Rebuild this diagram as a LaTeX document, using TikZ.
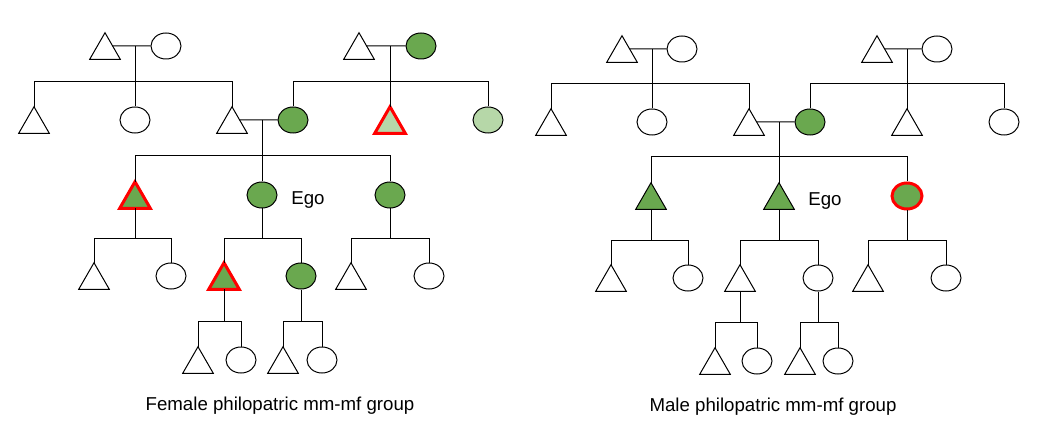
\documentclass[tikz,border=0pt]{standalone}
\usepackage{fontspec}
\setmainfont{Liberation Sans}
\usetikzlibrary{shapes.geometric,calc}
\definecolor{sgreen}{HTML}{6AA84F}
\definecolor{lgreen}{HTML}{B6D7A8}
\definecolor{sred}{HTML}{FF0000}
\tikzset{
 trinode/.style={rectangle, inner sep=0pt, minimum width=22.5pt, minimum height=19.5pt},
 ellnode/.style={ellipse, inner sep=0pt, minimum width=22.5pt, minimum height=19.5pt, draw=black, line width=0.75pt, fill=white},
 wline/.style={draw=black, line width=0.75pt, fill=white},
 gline/.style={draw=black, line width=0.75pt, fill=sgreen},
 rgline/.style={draw=sred, line width=2.25pt, fill=sgreen},
 rlgline/.style={draw=sred, line width=2.25pt, fill=lgreen},
 redell/.style={draw=sred, line width=2.25pt, fill=sgreen},
 link/.style={draw=black, line width=0.75pt},
 lbl/.style={font=\fontsize{14}{16}\selectfont, inner sep=0pt},
}
\newcommand\mytri[4]{\node[trinode] (#1) at (#2,#3) {};\draw[#4] (#1.north) -- (#1.south east) -- (#1.south west) -- cycle;}
\newcommand\myell[4]{\node[ellnode,#4] (#1) at (#2,#3) {};}
% marriage: triangle, ellipse, name of midpoint
\newcommand\mywed[3]{\draw[link] ($(#1.north)!0.5!(#1.south east)$) -- (#2.west);\coordinate (#3) at ($(#1.center)!0.5!(#2.center)$);}
\begin{document}
\begin{tikzpicture}[x=0.75pt,y=-0.75pt]
\useasboundingbox (0,0) rectangle (1044,438);
% ================= LEFT TREE =================
\mytri{a1}{105}{46}{wline}
\myell{a2}{166}{46}{}
\mytri{b1}{359}{46}{wline}
\myell{b2}{421}{46}{fill=sgreen}
\mytri{c1}{34}{120}{wline}
\myell{c2}{135}{120}{}
\mytri{c3}{232}{120}{wline}
\myell{c4}{293}{120}{fill=sgreen}
\mytri{c5}{390}{120}{rlgline}
\myell{c6}{488}{120}{fill=lgreen}
\mytri{d1}{135}{195}{rgline}
\myell{d2}{262}{195}{fill=sgreen}
\myell{d3}{390}{195}{fill=sgreen}
\node[lbl] (egoL) at (308,200) {Ego};
\mytri{e1}{94}{276}{wline}
\myell{e2}{171}{276}{}
\mytri{e3}{224}{276}{rgline}
\myell{e4}{301}{276}{fill=sgreen}
\mytri{e5}{351}{276}{wline}
\myell{e6}{429}{276}{}
\mytri{f1}{198}{360}{wline}
\myell{f2}{241}{360}{}
\mytri{f3}{283}{360}{wline}
\myell{f4}{322}{360}{}
% bars
\coordinate (barA) at (0,82);
\coordinate (barC) at (0,156);
\coordinate (barD) at (0,238);
\coordinate (barE) at (0,321);
% couple A
\mywed{a1}{a2}{ma}
\draw[link] (ma) -- (ma |- barA);
\draw[link] (c1.north) |- (c3.north |- barA) -- (c3.north);
\draw[link] (c2.north) -- (c2.north |- barA);
% couple B
\mywed{b1}{b2}{mb}
\draw[link] (mb) -- (mb |- barA);
\draw[link] (c4.north) |- (c6.north |- barA) -- (c6.north);
\draw[link] (c5.north) -- (c5.north |- barA);
% ego parents
\mywed{c3}{c4}{mc}
\draw[link] (mc) -- (mc |- barC);
\draw[link] (d1.north) |- (d3.north |- barC) -- (d3.north);
\draw[link] (d2.north) -- (d2.north |- barC);
% gen 3 families
\draw[link] (d1.south) -- (d1.south |- barD);
\draw[link] (e1.north) |- (e2.north |- barD) -- (e2.north);
\draw[link] (d2.south) -- (d2.south |- barD);
\draw[link] (e3.north) |- (e4.north |- barD) -- (e4.north);
\draw[link] (d3.south) -- (d3.south |- barD);
\draw[link] (e5.north) |- (e6.north |- barD) -- (e6.north);
% gen 4 families
\draw[link] (e3.south) -- (e3.south |- barE);
\draw[link] (f1.north) |- (f2.north |- barE) -- (f2.north);
\draw[link] (e4.south) -- (e4.south |- barE);
\draw[link] (f3.north) |- (f4.north |- barE) -- (f4.north);
\node[lbl] (capL) at (280,406) {Female philopatric mm-mf group};
% ================= RIGHT TREE =================
\mytri{ra1}{622}{49}{wline}
\myell{ra2}{682}{49}{}
\mytri{rb1}{877}{49}{wline}
\myell{rb2}{937}{49}{}
\mytri{rc1}{551}{122}{wline}
\myell{rc2}{652}{122}{}
\mytri{rc3}{749}{122}{wline}
\myell{rc4}{810}{122}{fill=sgreen}
\mytri{rc5}{907}{122}{wline}
\myell{rc6}{1004}{122}{}
\mytri{rd1}{651}{196}{gline}
\mytri{rd2}{779}{196}{gline}
\myell{rd3}{907}{196}{redell}
\node[lbl] (egoR) at (825,201) {Ego};
\mytri{re1}{611}{278}{wline}
\myell{re2}{688}{278}{}
\mytri{re3}{740}{278}{wline}
\myell{re4}{818}{278}{}
\mytri{re5}{868}{278}{wline}
\myell{re6}{946}{278}{}
\mytri{rf1}{715}{361}{wline}
\myell{rf2}{757}{361}{}
\mytri{rf3}{800}{361}{wline}
\myell{rf4}{838}{361}{}
\coordinate (rbarA) at (0,84);
\coordinate (rbarC) at (0,157);
\coordinate (rbarD) at (0,240);
\coordinate (rbarE) at (0,322);
\mywed{ra1}{ra2}{rma}
\draw[link] (rma) -- (rma |- rbarA);
\draw[link] (rc1.north) |- (rc3.north |- rbarA) -- (rc3.north);
\draw[link] (rc2.north) -- (rc2.north |- rbarA);
\mywed{rb1}{rb2}{rmb}
\draw[link] (rmb) -- (rmb |- rbarA);
\draw[link] (rc4.north) |- (rc6.north |- rbarA) -- (rc6.north);
\draw[link] (rc5.north) -- (rc5.north |- rbarA);
\mywed{rc3}{rc4}{rmc}
\draw[link] (rmc) -- (rmc |- rbarC);
\draw[link] (rd1.north) |- (rd3.north |- rbarC) -- (rd3.north);
\draw[link] (rd2.north) -- (rd2.north |- rbarC);
\draw[link] (rd1.south) -- (rd1.south |- rbarD);
\draw[link] (re1.north) |- (re2.north |- rbarD) -- (re2.north);
\draw[link] (rd2.south) -- (rd2.south |- rbarD);
\draw[link] (re3.north) |- (re4.north |- rbarD) -- (re4.north);
\draw[link] (rd3.south) -- (rd3.south |- rbarD);
\draw[link] (re5.north) |- (re6.north |- rbarD) -- (re6.north);
\draw[link] (re3.south) -- (re3.south |- rbarE);
\draw[link] (rf1.north) |- (rf2.north |- rbarE) -- (rf2.north);
\draw[link] (re4.south) -- (re4.south |- rbarE);
\draw[link] (rf3.north) |- (rf4.north |- rbarE) -- (rf4.north);
\node[lbl] (capR) at (773,407) {Male philopatric mm-mf group};
\end{tikzpicture}
\end{document}
